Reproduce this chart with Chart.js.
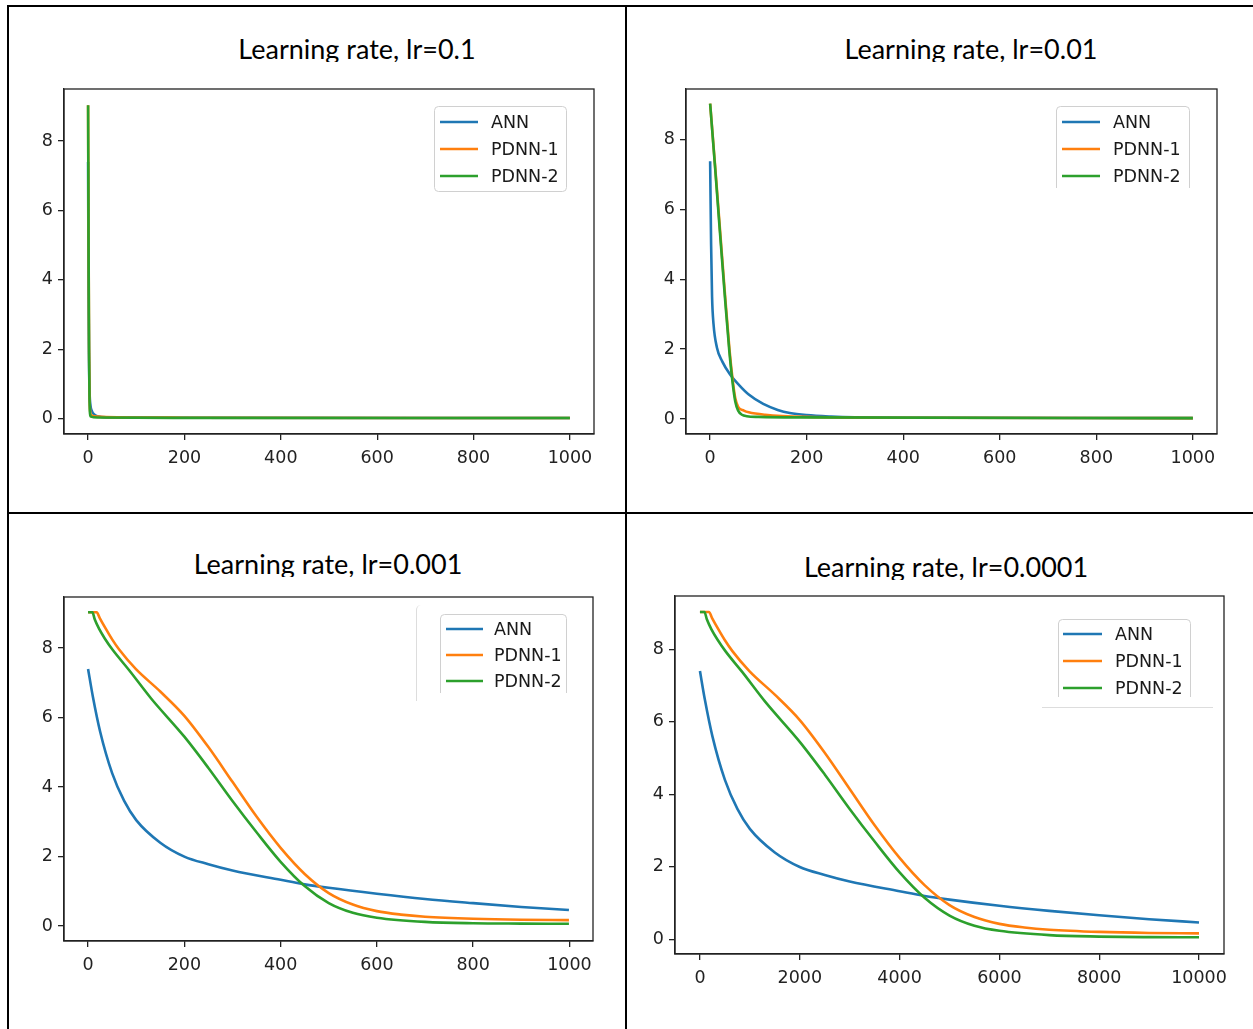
<!DOCTYPE html>
<html>
<head>
<meta charset="utf-8">
<script src="https://cdn.jsdelivr.net/npm/chart.js@4.4.1/dist/chart.umd.min.js"></script>
<style>
  html, body { margin: 0; padding: 0; background: #fff; }
  #pagina { position: relative; width: 1253px; height: 1029px; overflow: hidden; background: #fff; }
  .linea { position: absolute; background: #000; z-index: 5; }
  .titulo {
    position: absolute; transform: translateX(-50%);
    font-family: Lato, "Open Sans", sans-serif; font-size: 27px; line-height: 29px;
    color: #000; white-space: nowrap; overflow: hidden; height: 28px;
  }
  .panel { position: absolute; }
  .recorte { position: absolute; border-color: #ddd; border-style: solid; border-width: 0; }
</style>
</head>
<body>
<div id="pagina">
  <div class="titulo" id="t1" style="left:357px; top:33.5px;"></div>
  <div class="titulo" id="t2" style="left:971px; top:33.5px;"></div>
  <div class="titulo" id="t3" style="left:328px; top:548.5px;"></div>
  <div class="titulo" id="t4" style="left:946px; top:551.5px;"></div>

  <div class="panel" style="left:14px; top:69px; width:590px; height:411px;"><canvas id="g1"></canvas></div>
  <div class="panel" style="left:636px; top:69px; width:591px; height:411px;"><canvas id="g2"></canvas></div>
  <div class="panel" style="left:14px; top:577px; width:589px; height:410px;"><canvas id="g3"></canvas></div>
  <div class="panel" style="left:625px; top:576px; width:619px; height:424px;"><canvas id="g4"></canvas></div>

  <!-- restos de marcos recortados -->
  <div class="recorte" style="left:416px; top:605px; width:10px; height:96px; border-left-width:1px; border-top-left-radius:5px;"></div>
  <div class="recorte" style="left:1042px; top:707px; width:171px; height:0; border-top-width:1px;"></div>

  <!-- bordes de la tabla -->
  <div class="linea" style="left:7px; top:5px; width:1246px; height:2px;"></div>
  <div class="linea" style="left:7px; top:5px; width:2px; height:1024px;"></div>
  <div class="linea" style="left:625px; top:5px; width:2px; height:1024px;"></div>
  <div class="linea" style="left:7px; top:512px; width:1246px; height:2px;"></div>
</div>

<script>
// ===== Datos =====
const nombresSeries = ["ANN", "PDNN-1", "PDNN-2"];
const coloresSeries = ["#1f77b4", "#ff7f0e", "#2ca02c"];
const titulos = [
  "Learning rate, lr=0.1",
  "Learning rate, lr=0.01",
  "Learning rate, lr=0.001",
  "Learning rate, lr=0.0001"
];
const ticksEpocas1000 = [0, 200, 400, 600, 800, 1000];
const ticksEpocas10000 = [0, 2000, 4000, 6000, 8000, 10000];
const ticksPerdida = [0, 2, 4, 6, 8];

// lr = 0.1  [epoca, perdida]
const annLr1 = [[0, 7.4], [1, 3.6], [2, 1.6], [3, 0.8], [5, 0.38], [8, 0.22], [12, 0.13], [20, 0.07], [40, 0.04], [200, 0.03], [1000, 0.02]];
const pdnn1Lr1 = [[0, 9.03], [1, 5.2], [2, 2.1], [3, 0.7], [4, 0.25], [7, 0.1], [20, 0.06], [60, 0.04], [200, 0.03], [1000, 0.02]];
const pdnn2Lr1 = [[0, 9.03], [1, 5.0], [2, 1.9], [3, 0.55], [4, 0.15], [6, 0.06], [20, 0.035], [200, 0.025], [1000, 0.02]];

// lr = 0.01
const annLr2 = [[0, 7.38], [2, 5.0], [4, 3.5], [7, 2.72], [14, 2.05], [25, 1.65], [41, 1.28], [60, 0.97], [80, 0.7], [110, 0.43], [140, 0.26], [165, 0.17], [200, 0.11], [250, 0.07], [300, 0.05], [500, 0.035], [1000, 0.025]];
const pdnn1Lr2 = [[0, 9.03], [10, 7.3], [20, 5.5], [30, 3.7], [40, 2.0], [46, 1.2], [52, 0.6], [58, 0.35], [70, 0.24], [80, 0.19], [114, 0.12], [200, 0.06], [400, 0.035], [1000, 0.025]];
const pdnn2Lr2 = [[0, 9.03], [10, 7.25], [20, 5.4], [30, 3.6], [40, 1.9], [46, 1.1], [52, 0.5], [58, 0.24], [66, 0.12], [76, 0.08], [100, 0.06], [200, 0.045], [1000, 0.025]];

// lr = 0.001
const annLr3 = [[0, 7.4], [10, 6.6], [25, 5.6], [50, 4.4], [75, 3.6], [100, 3.05], [150, 2.4], [200, 2.0], [250, 1.78], [300, 1.6], [400, 1.33], [450, 1.2], [500, 1.1], [600, 0.93], [700, 0.78], [800, 0.66], [900, 0.55], [999, 0.46]];
const pdnn1Lr3 = [[0, 9.03], [18, 9.03], [24, 8.87], [37, 8.55], [50, 8.25], [65, 7.95], [99, 7.4], [150, 6.75], [200, 6.05], [250, 5.15], [300, 4.15], [350, 3.15], [400, 2.25], [450, 1.5], [500, 0.95], [550, 0.62], [600, 0.43], [650, 0.33], [700, 0.27], [800, 0.21], [900, 0.18], [999, 0.17]];
const pdnn2Lr3 = [[0, 9.03], [9, 9.03], [14, 8.82], [23, 8.55], [35, 8.27], [51, 7.95], [85, 7.37], [131, 6.55], [200, 5.45], [250, 4.55], [300, 3.6], [350, 2.7], [400, 1.85], [450, 1.15], [500, 0.66], [550, 0.38], [600, 0.24], [700, 0.12], [800, 0.08], [900, 0.07], [999, 0.065]];

// lr = 0.0001
const annLr4 = [[0, 7.4], [100, 6.6], [250, 5.6], [500, 4.4], [750, 3.6], [1000, 3.05], [1500, 2.4], [2000, 2.0], [2500, 1.78], [3000, 1.6], [4000, 1.33], [4500, 1.2], [5000, 1.1], [6000, 0.93], [7000, 0.79], [8000, 0.67], [9000, 0.56], [9999, 0.47]];
const pdnn1Lr4 = [[0, 9.03], [180, 9.03], [240, 8.87], [370, 8.55], [500, 8.25], [650, 7.95], [990, 7.4], [1500, 6.75], [2000, 6.05], [2500, 5.15], [3000, 4.15], [3500, 3.15], [4000, 2.25], [4500, 1.5], [5000, 0.95], [5500, 0.62], [6000, 0.43], [6500, 0.33], [7000, 0.27], [8000, 0.21], [9000, 0.18], [9999, 0.17]];
const pdnn2Lr4 = [[0, 9.03], [90, 9.03], [140, 8.82], [230, 8.55], [350, 8.27], [510, 7.95], [850, 7.37], [1310, 6.55], [2000, 5.45], [2500, 4.55], [3000, 3.6], [3500, 2.7], [4000, 1.85], [4500, 1.15], [5000, 0.66], [5500, 0.38], [6000, 0.24], [7000, 0.12], [8000, 0.08], [9000, 0.065], [9999, 0.06]];

// ===== Estilo tipo matplotlib =====
const colorEje = "#222";
const fuenteTicks = { family: "'DejaVu Sans', sans-serif", size: 17.5 };

// marco completo alrededor del area de datos
const marcoPlugin = {
  id: "marco",
  afterDraw(chart) {
    const { ctx, chartArea: a } = chart;
    ctx.save();
    ctx.strokeStyle = colorEje;
    ctx.lineWidth = 1.3;
    ctx.strokeRect(a.left, a.top, a.right - a.left, a.bottom - a.top);
    ctx.restore();
  }
};

// leyenda dentro del area, esquina superior derecha
const leyendaPlugin = {
  id: "leyendaMpl",
  afterDraw(chart, args, op) {
    const { ctx, chartArea: a } = chart;
    const x0 = a.right - op.derecha - op.ancho;
    const y0 = a.top + op.arriba;
    const alto = op.alto;
    const r = 4;
    ctx.save();
    // fondo y borde (sin borde inferior si esta recortada)
    ctx.fillStyle = "rgba(255,255,255,0.8)";
    ctx.fillRect(x0, y0, op.ancho, alto);
    ctx.strokeStyle = "#d0d0d0";
    ctx.lineWidth = 1;
    ctx.beginPath();
    if (op.recortada) {
      ctx.moveTo(x0 + 0.5, y0 + alto);
      ctx.lineTo(x0 + 0.5, y0 + r);
      ctx.arcTo(x0 + 0.5, y0 + 0.5, x0 + r, y0 + 0.5, r);
      ctx.lineTo(x0 + op.ancho - r, y0 + 0.5);
      ctx.arcTo(x0 + op.ancho - 0.5, y0 + 0.5, x0 + op.ancho - 0.5, y0 + r, r);
      ctx.lineTo(x0 + op.ancho - 0.5, y0 + alto);
    } else {
      ctx.roundRect(x0 + 0.5, y0 + 0.5, op.ancho - 1, alto - 1, r);
    }
    ctx.stroke();
    // entradas
    ctx.font = "17.5px 'DejaVu Sans', sans-serif";
    ctx.textBaseline = "middle";
    ctx.fillStyle = "#1a1a1a";
    chart.data.datasets.forEach((ds, i) => {
      const y = y0 + op.primera + i * op.paso;
      ctx.strokeStyle = ds.borderColor;
      ctx.lineWidth = 2.6;
      ctx.beginPath();
      ctx.moveTo(x0 + op.marcaX, y);
      ctx.lineTo(x0 + op.marcaX + op.marcaLargo, y);
      ctx.stroke();
      ctx.fillText(ds.label, x0 + op.textoX, y + 1);
    });
    ctx.restore();
  }
};

function crearGrafica(id, cfg) {
  const eje = (relleno) => ({
    type: "linear",
    grid: { drawOnChartArea: false, drawTicks: true, tickLength: 6, color: colorEje, lineWidth: 1.3 },
    border: { color: colorEje, width: 1.3 },
    ticks: { font: fuenteTicks, color: "#222", padding: relleno, maxRotation: 0, autoSkip: false, callback: (v) => String(v) }
  });
  return new Chart(document.getElementById(id), {
    type: "line",
    data: {
      datasets: cfg.series.map((puntos, i) => ({
        label: nombresSeries[i],
        data: puntos,
        borderColor: coloresSeries[i],
        borderWidth: 2.6,
        pointRadius: 0,
        fill: false,
        cubicInterpolationMode: "monotone",
        order: 2 - i
      }))
    },
    options: {
      animation: false,
      responsive: true,
      maintainAspectRatio: false,
      events: [],
      layout: { padding: { top: 20, right: cfg.padDer || 10, bottom: 0, left: 0 } },
      plugins: {
        legend: { display: false },
        tooltip: { enabled: false },
        leyendaMpl: cfg.leyenda
      },
      scales: {
        x: Object.assign(eje(8), {
          min: cfg.xMin, max: cfg.xMax,
          afterBuildTicks: (ax) => { ax.ticks = cfg.xTicks.map((v) => ({ value: v })); },
          afterFit: (ax) => { ax.height = 46; }
        }),
        y: Object.assign(eje(5), {
          min: cfg.yMin, max: cfg.yMax,
          afterBuildTicks: (ax) => { ax.ticks = ticksPerdida.map((v) => ({ value: v })); },
          afterFit: (ax) => { ax.width = 50; }
        })
      }
    },
    plugins: [marcoPlugin, leyendaPlugin]
  });
}

document.addEventListener("DOMContentLoaded", function () {
  titulos.forEach((t, i) => { document.getElementById("t" + (i + 1)).textContent = t; });

  const leyendaBase = { derecha: 27, arriba: 17, ancho: 133, alto: 86, primera: 16, paso: 27, marcaX: 6, marcaLargo: 38, textoX: 57 };

  crearGrafica("g1", {
    series: [annLr1, pdnn1Lr1, pdnn2Lr1], xTicks: ticksEpocas1000,
    xMin: -50, xMax: 1050, yMin: -0.44, yMax: 9.5,
    leyenda: leyendaBase
  });
  crearGrafica("g2", {
    series: [annLr2, pdnn1Lr2, pdnn2Lr2], xTicks: ticksEpocas1000,
    xMin: -50, xMax: 1050, yMin: -0.43, yMax: 9.45,
    leyenda: Object.assign({}, leyendaBase, { ancho: 134, alto: 82, recortada: true })
  });
  crearGrafica("g3", {
    series: [annLr3, pdnn1Lr3, pdnn2Lr3], xTicks: ticksEpocas1000,
    xMin: -50, xMax: 1049, yMin: -0.43, yMax: 9.47,
    leyenda: { derecha: 26, arriba: 17, ancho: 127, alto: 79, primera: 15, paso: 26, marcaX: 6, marcaLargo: 37, textoX: 54, recortada: true }
  });
  crearGrafica("g4", {
    series: [annLr4, pdnn1Lr4, pdnn2Lr4], xTicks: ticksEpocas10000,
    xMin: -500, xMax: 10500, yMin: -0.40, yMax: 9.47, padDer: 20,
    leyenda: { derecha: 33, arriba: 23, ancho: 133, alto: 78, primera: 15, paso: 27, marcaX: 5, marcaLargo: 39, textoX: 57, recortada: true }
  });
});
</script>
</body>
</html>
